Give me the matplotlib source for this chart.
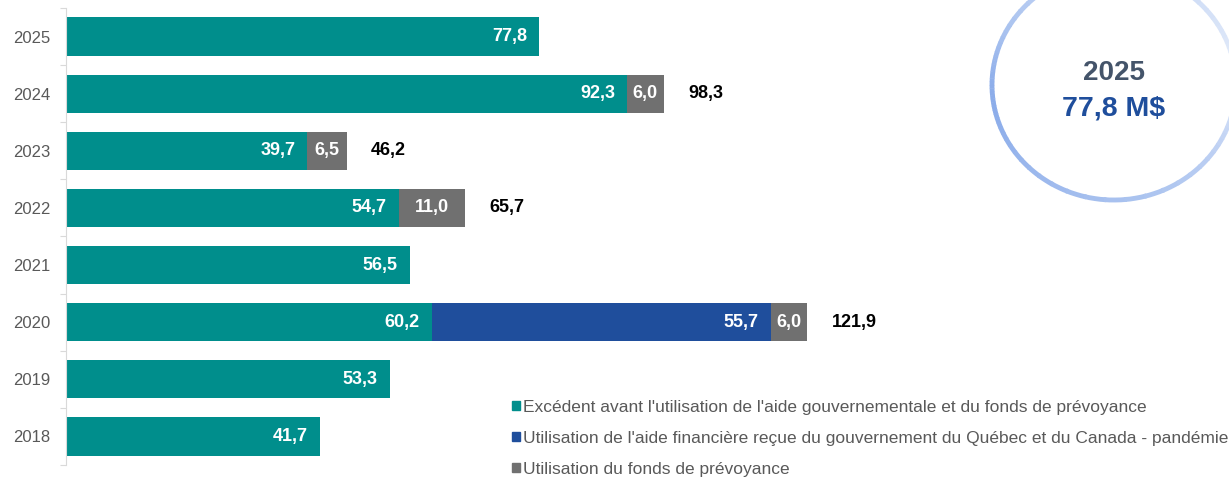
import numpy as np
import matplotlib.pyplot as plt
from matplotlib.patches import Arc, Patch
from matplotlib.colors import to_rgb

plt.rcParams['font.family'] = ['Liberation Sans', 'DejaVu Sans']

years = ['2018', '2019', '2020', '2021', '2022', '2023', '2024', '2025']
excedent = [41.7, 53.3, 60.2, 56.5, 54.7, 39.7, 92.3, 77.8]
aide = [0, 0, 55.7, 0, 0, 0, 0, 0]
fonds = [0, 0, 6.0, 0, 11.0, 6.5, 6.0, 0]
totals = [None, None, 121.9, None, 65.7, 46.2, 98.3, None]

legend_labels = [
    "Excédent avant l'utilisation de l'aide gouvernementale et du fonds de prévoyance",
    "Utilisation de l'aide financière reçue du gouvernement du Québec et du Canada - pandémie",
    "Utilisation du fonds de prévoyance",
]

c_teal = '#008E8C'
c_blue = '#1F4E9C'
c_gray = '#707070'

def fmt(v):
    return f"{v:.1f}".replace('.', ',')

W, H = 1229, 478
fig = plt.figure(figsize=(W / 100, H / 100), dpi=100)
ax = fig.add_axes([66 / W, 13 / H, 1 - 66 / W, 457 / H])

y = range(len(years))
h = 0.67
ax.barh(y, excedent, height=h, color=c_teal)
ax.barh(y, aide, left=excedent, height=h, color=c_blue)
left3 = [a + b for a, b in zip(excedent, aide)]
ax.barh(y, fonds, left=left3, height=h, color=c_gray)

lab = dict(color='white', fontweight='bold', fontsize=13, va='center')
for i in y:
    ax.text(excedent[i] - 2, i, fmt(excedent[i]), ha='right', **lab)
    if aide[i]:
        ax.text(left3[i] - 2, i, fmt(aide[i]), ha='right', **lab)
    if fonds[i]:
        ax.text(left3[i] + fonds[i] / 2, i, fmt(fonds[i]), ha='center', **lab)
    if totals[i]:
        ax.text(left3[i] + fonds[i] + 4, i, fmt(totals[i]), ha='left', va='center',
                color='black', fontweight='bold', fontsize=13)

ax.set_xlim(0, (W - 66) / 6.08)
ax.set_ylim(-0.5, len(years) - 0.5)
ax.set_yticks([v - 0.5 for v in range(len(years) + 1)])
ax.set_yticklabels([])
ax.set_yticks(list(y), minor=True)
ax.set_yticklabels(years, minor=True, fontsize=12, color='#595959')
ax.tick_params(axis='y', which='major', length=4, color='#D9D9D9')
ax.tick_params(axis='y', which='minor', length=0, pad=11)
ax.set_xticks([])
for s in ['top', 'right', 'bottom']:
    ax.spines[s].set_visible(False)
ax.spines['left'].set_color('#D9D9D9')

handles = [Patch(color=c) for c in (c_teal, c_blue, c_gray)]
fig.legend(handles, legend_labels, loc='upper left',
           bbox_to_anchor=(503 / W, 1 - 391 / H), frameon=False,
           fontsize=12.5, handlelength=0.46, handleheight=0.46, handletextpad=0.2,
           labelspacing=0.92, labelcolor='#595959', borderpad=0)

# circle with a soft blue gradient on its edge
cx, cy, rw, rh = 1114, 85, 244, 230
dark, light = np.array(to_rgb('#8CADEA')), np.array(to_rgb('#E0E9F9'))
for a in range(0, 360, 4):
    t = (1 - np.cos(np.radians(a + 2 - 200))) / 2
    col = dark * (1 - t) + light * t
    arc = Arc((cx / W, 1 - cy / H), rw / W, rh / H, theta1=a, theta2=a + 4.5,
              transform=fig.transFigure, color=col, linewidth=3.5)
    fig.add_artist(arc)
fig.text(1114 / W, 1 - 73 / H, '2025', ha='center', va='center', fontsize=20,
         fontweight='bold', color='#44546A')
fig.text(1114 / W, 1 - 109 / H, '77,8 M$', ha='center', va='center', fontsize=20.5,
         fontweight='bold', color=c_blue)

fig.savefig('out.png', dpi=100)
